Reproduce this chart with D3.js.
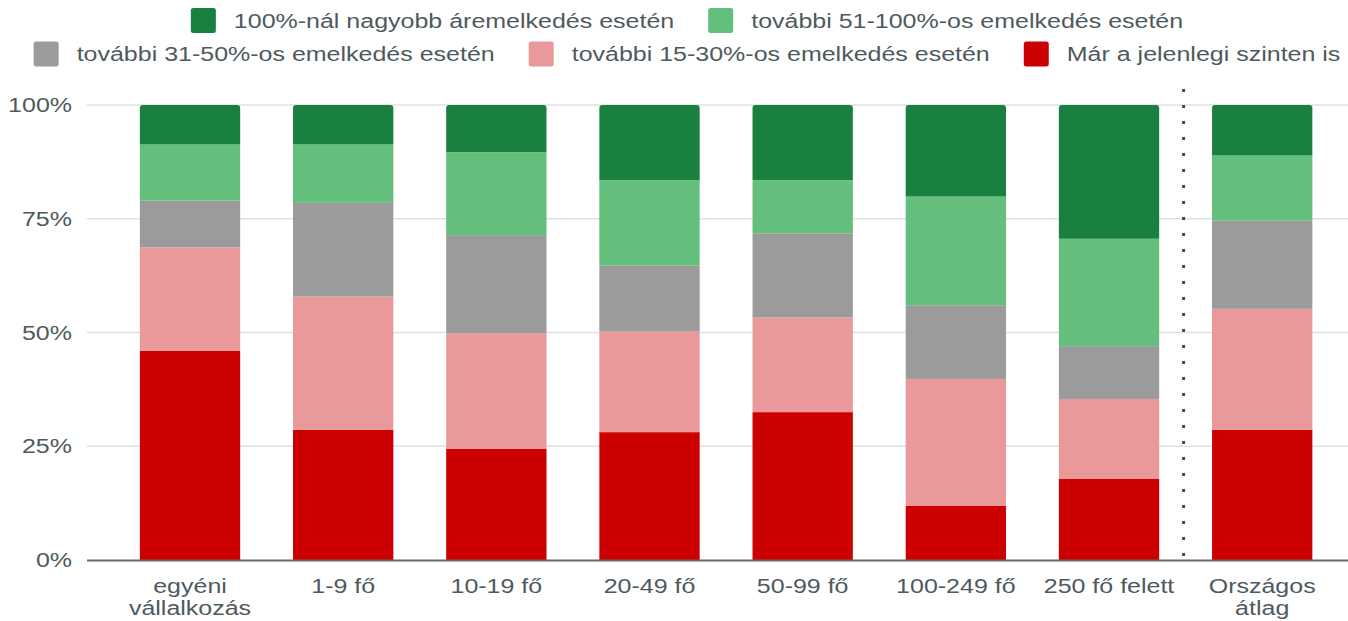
<!DOCTYPE html>
<meta charset="utf-8">
<script src="https://d3js.org/d3.v7.min.js"></script>
<style>
  body { margin: 0; background: #fff; }
  text { font-family: Arial, "Liberation Sans", sans-serif; fill: #4e5a5e; }
</style>
<body>
<div id="chart"></div>
<script>
// categories (bottom of chart)
var categories = ['egyéni vállalkozás', '1-9 fő', '10-19 fő', '20-49 fő', '50-99 fő', '100-249 fő', '250 fő felett', 'Országos átlag'];
var catLines = [['egyéni', 'vállalkozás'], ['1-9 fő'], ['10-19 fő'], ['20-49 fő'], ['50-99 fő'], ['100-249 fő'], ['250 fő felett'], ['Országos', 'átlag']];

// series, bottom to top (percent)
var seriesNames = ['Már a jelenlegi szinten is', 'további 15-30%-os emelkedés esetén', 'további 31-50%-os emelkedés esetén', 'további 51-100%-os emelkedés esetén', '100%-nál nagyobb áremelkedés esetén'];
var seriesColors = ['#cc0000', '#e99999', '#9b9b9b', '#64be7c', '#1a8040'];

var mostIs    = [46.0, 28.6, 24.4, 28.1, 32.5, 11.9, 17.8, 28.6];
var plus15_30 = [22.7, 29.3, 25.4, 22.1, 20.8, 27.9, 17.6, 26.6];
var plus31_50 = [10.3, 20.6, 21.6, 14.5, 18.5, 16.2, 11.6, 19.4];
var plus51_100 = [12.4, 12.9, 18.2, 18.8, 11.7, 23.9, 23.6, 14.3];
var over100   = [8.6, 8.6, 10.4, 16.5, 16.5, 20.1, 29.4, 11.1];

var yTicks = [0, 25, 50, 75, 100];

var W = 1348, H = 621;
var sx = 1.25; // text in the reference is a bit wide

var svg = d3.select('#chart').append('svg')
    .attr('width', W).attr('height', H);

var table = categories.map(function(c, i) {
    return {cat: c, s0: mostIs[i], s1: plus15_30[i], s2: plus31_50[i], s3: plus51_100[i], s4: over100[i]};
});
var keys = ['s0', 's1', 's2', 's3', 's4'];
var stacked = d3.stack().keys(keys)(table);

var x = d3.scaleBand().domain(categories).range([87, 1365.2]).padding(0.345);
var y = d3.scaleLinear().domain([0, 100]).range([560, 105]);

// grid
svg.append('g').selectAll('line')
    .data(yTicks.filter(function(t) { return t > 0; }))
    .enter().append('line')
    .attr('x1', 87).attr('x2', W)
    .attr('y1', function(d) { return y(d); })
    .attr('y2', function(d) { return y(d); })
    .attr('stroke', '#e0e0e0').attr('stroke-width', 1.5);

// y labels
svg.append('g').selectAll('text')
    .data(yTicks)
    .enter().append('text')
    .attr('transform', function(d) { return 'translate(72,' + (y(d) + 7) + ') scale(' + sx + ',1)'; })
    .attr('text-anchor', 'end')
    .attr('font-size', 20)
    .text(function(d) { return d + '%'; });

function topRounded(x0, y0, w, h, r) {
    return 'M' + x0 + ',' + (y0 + h) +
        'V' + (y0 + r) + 'Q' + x0 + ',' + y0 + ' ' + (x0 + r) + ',' + y0 +
        'H' + (x0 + w - r) + 'Q' + (x0 + w) + ',' + y0 + ' ' + (x0 + w) + ',' + (y0 + r) +
        'V' + (y0 + h) + 'Z';
}

// bars
var layers = svg.append('g').selectAll('g')
    .data(stacked)
    .enter().append('g')
    .attr('fill', function(d, i) { return seriesColors[i]; });

layers.each(function(layer, li) {
    var g = d3.select(this);
    if (li < keys.length - 1) {
        g.selectAll('rect').data(layer).enter().append('rect')
            .attr('x', function(d) { return x(d.data.cat); })
            .attr('width', x.bandwidth())
            .attr('y', function(d) { return y(d[1]); })
            .attr('height', function(d) { return y(d[0]) - y(d[1]); });
    } else {
        g.selectAll('path').data(layer).enter().append('path')
            .attr('d', function(d) {
                return topRounded(x(d.data.cat), y(d[1]), x.bandwidth(), y(d[0]) - y(d[1]), 3);
            });
    }
});

// separator before the national average
var sepX = x(categories[6]) + x.bandwidth() + (x.step() - x.bandwidth()) / 2 - 2;
svg.append('line')
    .attr('x1', sepX).attr('x2', sepX)
    .attr('y1', 89).attr('y2', 558)
    .attr('stroke', '#3c4a5c').attr('stroke-width', 3)
    .attr('stroke-dasharray', '3,13');

// baseline
svg.append('line')
    .attr('x1', 87).attr('x2', W)
    .attr('y1', y(0) + 0.5).attr('y2', y(0) + 0.5)
    .attr('stroke', '#666').attr('stroke-width', 2);

// x labels
var xl = svg.append('g').selectAll('g')
    .data(categories)
    .enter().append('g');
xl.each(function(c, i) {
    var g = d3.select(this);
    catLines[i].forEach(function(line, k) {
        g.append('text')
            .attr('transform', 'translate(' + (x(c) + x.bandwidth() / 2) + ',' + (593 + k * 22) + ') scale(' + sx + ',1)')
            .attr('text-anchor', 'middle')
            .attr('font-size', 20)
            .text(line);
    });
});

// legend: two centred rows
var legendRows = [[4, 3], [2, 1, 0]];
var rowY = [20.5, 54];
legendRows.forEach(function(row, r) {
    var g = svg.append('g');
    var cur = 0;
    row.forEach(function(si, j) {
        var item = g.append('g').attr('transform', 'translate(' + cur + ',0)');
        item.append('rect')
            .attr('x', 0).attr('y', rowY[r] - 12.5)
            .attr('width', 25).attr('height', 25)
            .attr('rx', 2.5)
            .attr('fill', seriesColors[si]);
        var t = item.append('text')
            .attr('transform', 'translate(43,' + (rowY[r] + 7) + ') scale(' + sx + ',1)')
            .attr('font-size', 20)
            .text(seriesNames[si]);
        var tw = t.node().getComputedTextLength() * sx;
        cur += 43 + tw + (j < row.length - 1 ? 34 : 0);
    });
    g.attr('transform', 'translate(' + (687 - cur / 2) + ',0)');
});
</script>
</body>
